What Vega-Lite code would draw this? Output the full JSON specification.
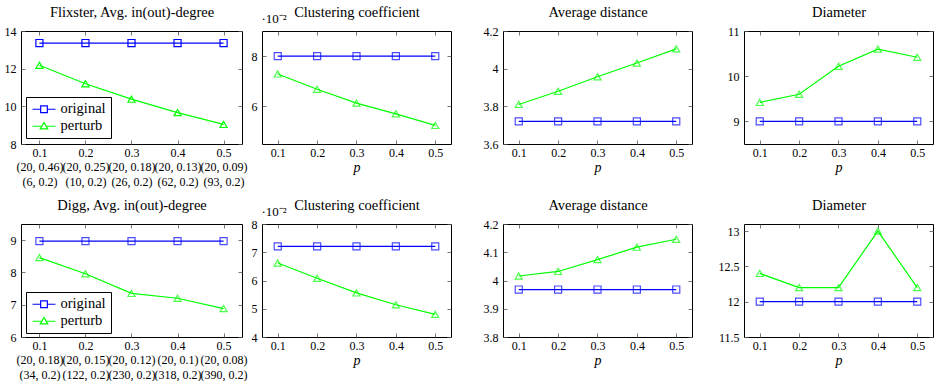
{
  "$schema": "https://vega.github.io/schema/vega-lite/v6.json",
  "background": "white",
  "padding": {"left": 3, "top": 3, "right": 5, "bottom": 0},
  "datasets": {
    "f_deg": [
      {"p": 0.1, "s": "original", "v": 13.36}, {"p": 0.2, "s": "original", "v": 13.36}, {"p": 0.3, "s": "original", "v": 13.36}, {"p": 0.4, "s": "original", "v": 13.36}, {"p": 0.5, "s": "original", "v": 13.36},
      {"p": 0.1, "s": "perturb", "v": 12.18}, {"p": 0.2, "s": "perturb", "v": 11.2}, {"p": 0.3, "s": "perturb", "v": 10.38}, {"p": 0.4, "s": "perturb", "v": 9.67}, {"p": 0.5, "s": "perturb", "v": 9.04}
    ],
    "f_cc": [
      {"p": 0.1, "s": "original", "v": 8.0}, {"p": 0.2, "s": "original", "v": 8.0}, {"p": 0.3, "s": "original", "v": 8.0}, {"p": 0.4, "s": "original", "v": 8.0}, {"p": 0.5, "s": "original", "v": 8.0},
      {"p": 0.1, "s": "perturb", "v": 7.29}, {"p": 0.2, "s": "perturb", "v": 6.68}, {"p": 0.3, "s": "perturb", "v": 6.13}, {"p": 0.4, "s": "perturb", "v": 5.7}, {"p": 0.5, "s": "perturb", "v": 5.24}
    ],
    "f_ad": [
      {"p": 0.1, "s": "original", "v": 3.72}, {"p": 0.2, "s": "original", "v": 3.72}, {"p": 0.3, "s": "original", "v": 3.72}, {"p": 0.4, "s": "original", "v": 3.72}, {"p": 0.5, "s": "original", "v": 3.72},
      {"p": 0.1, "s": "perturb", "v": 3.81}, {"p": 0.2, "s": "perturb", "v": 3.88}, {"p": 0.3, "s": "perturb", "v": 3.957}, {"p": 0.4, "s": "perturb", "v": 4.03}, {"p": 0.5, "s": "perturb", "v": 4.105}
    ],
    "f_dia": [
      {"p": 0.1, "s": "original", "v": 9}, {"p": 0.2, "s": "original", "v": 9}, {"p": 0.3, "s": "original", "v": 9}, {"p": 0.4, "s": "original", "v": 9}, {"p": 0.5, "s": "original", "v": 9},
      {"p": 0.1, "s": "perturb", "v": 9.42}, {"p": 0.2, "s": "perturb", "v": 9.6}, {"p": 0.3, "s": "perturb", "v": 10.22}, {"p": 0.4, "s": "perturb", "v": 10.6}, {"p": 0.5, "s": "perturb", "v": 10.42}
    ],
    "d_deg": [
      {"p": 0.1, "s": "original", "v": 8.97}, {"p": 0.2, "s": "original", "v": 8.97}, {"p": 0.3, "s": "original", "v": 8.97}, {"p": 0.4, "s": "original", "v": 8.97}, {"p": 0.5, "s": "original", "v": 8.97},
      {"p": 0.1, "s": "perturb", "v": 8.46}, {"p": 0.2, "s": "perturb", "v": 7.96}, {"p": 0.3, "s": "perturb", "v": 7.35}, {"p": 0.4, "s": "perturb", "v": 7.2}, {"p": 0.5, "s": "perturb", "v": 6.88}
    ],
    "d_cc": [
      {"p": 0.1, "s": "original", "v": 7.21}, {"p": 0.2, "s": "original", "v": 7.21}, {"p": 0.3, "s": "original", "v": 7.21}, {"p": 0.4, "s": "original", "v": 7.21}, {"p": 0.5, "s": "original", "v": 7.21},
      {"p": 0.1, "s": "perturb", "v": 6.62}, {"p": 0.2, "s": "perturb", "v": 6.08}, {"p": 0.3, "s": "perturb", "v": 5.56}, {"p": 0.4, "s": "perturb", "v": 5.14}, {"p": 0.5, "s": "perturb", "v": 4.8}
    ],
    "d_ad": [
      {"p": 0.1, "s": "original", "v": 3.968}, {"p": 0.2, "s": "original", "v": 3.968}, {"p": 0.3, "s": "original", "v": 3.968}, {"p": 0.4, "s": "original", "v": 3.968}, {"p": 0.5, "s": "original", "v": 3.968},
      {"p": 0.1, "s": "perturb", "v": 4.016}, {"p": 0.2, "s": "perturb", "v": 4.032}, {"p": 0.3, "s": "perturb", "v": 4.074}, {"p": 0.4, "s": "perturb", "v": 4.118}, {"p": 0.5, "s": "perturb", "v": 4.146}
    ],
    "d_dia": [
      {"p": 0.1, "s": "original", "v": 12}, {"p": 0.2, "s": "original", "v": 12}, {"p": 0.3, "s": "original", "v": 12}, {"p": 0.4, "s": "original", "v": 12}, {"p": 0.5, "s": "original", "v": 12},
      {"p": 0.1, "s": "perturb", "v": 12.4}, {"p": 0.2, "s": "perturb", "v": 12.2}, {"p": 0.3, "s": "perturb", "v": 12.2}, {"p": 0.4, "s": "perturb", "v": 13}, {"p": 0.5, "s": "perturb", "v": 12.2}
    ]
  },
  "columns": 7,
  "spacing": {"row": 80, "column": 0},
  "bounds": "flush",
  "concat": [
    {
      "width": 221, "height": 113,
      "data": {"name": "f_deg"},
      "layer": [
        {"mark": {"type": "line", "strokeWidth": 1.2},
         "encoding": {
           "x": {"field": "p", "type": "quantitative", "scale": {"domain": [0.06, 0.54], "nice": false, "zero": false}, "axis": {"values": [0.1, 0.2, 0.3, 0.4, 0.5], "format": ".1f", "title": null, "labelLineHeight": 14.5, "labelExpr": "datum.label=='0.1'?['0.1','(20, 0.46)','(6, 0.2)']:datum.label=='0.2'?['0.2','(20, 0.25)','(10, 0.2)']:datum.label=='0.3'?['0.3','(20, 0.18)','(26, 0.2)']:datum.label=='0.4'?['0.4','(20, 0.13)','(62, 0.2)']:['0.5','(20, 0.09)','(93, 0.2)']"}},
           "y": {"field": "v", "type": "quantitative", "scale": {"domain": [8, 14], "nice": false, "zero": false}, "axis": {"values": [8, 10, 12, 14], "format": "~g", "title": null}},
           "color": {"field": "s", "type": "nominal", "scale": {"domain": ["original", "perturb"], "range": ["#0000ff", "#00ff00"]}, "legend": null}
         }},
        {"mark": {"type": "point", "filled": false, "strokeWidth": 1.2, "size": 50, "opacity": 1},
         "encoding": {
           "x": {"field": "p", "type": "quantitative", "scale": {"domain": [0.06, 0.54], "nice": false, "zero": false}, "axis": {"orient": "top", "values": [0.1, 0.2, 0.3, 0.4, 0.5], "labels": false, "title": "Flixster, Avg. in(out)-degree", "titleFontStyle": "normal", "titleFontSize": 14.5, "titleBaseline": "alphabetic", "titleY": -15}},
           "y": {"field": "v", "type": "quantitative", "scale": {"domain": [8, 14], "nice": false, "zero": false}, "axis": {"orient": "right", "values": [8, 10, 12, 14], "labels": false, "title": null}},
           "color": {"field": "s", "type": "nominal", "scale": {"domain": ["original", "perturb"], "range": ["#0000ff", "#00ff00"]}, "legend": null},
           "shape": {"field": "s", "type": "nominal", "scale": {"domain": ["original", "perturb"], "range": ["square", "triangle-up"]}, "legend": null}
         }},
        {"mark": {"type": "point", "filled": false, "strokeWidth": 1.2, "size": 132, "opacity": 0},
         "encoding": {
           "x": {"field": "p", "type": "quantitative", "scale": {"domain": [0.06, 0.54], "nice": false, "zero": false}, "axis": null},
           "y": {"field": "v", "type": "quantitative", "scale": {"domain": [8, 14], "nice": false, "zero": false}, "axis": null},
           "color": {"field": "s", "type": "nominal", "scale": {"domain": ["original", "perturb"], "range": ["#0000ff", "#00ff00"]}, "legend": {"orient": "none", "legendX": 5, "legendY": 66, "title": null, "strokeColor": "black", "fillColor": "white", "padding": 5, "labelFontSize": 14.5, "labelFont": "Liberation Serif", "labelColor": "black", "symbolSize": 132, "symbolStrokeWidth": 1.2, "symbolOpacity": 1, "rowPadding": 2, "labelOffset": 15}},
           "shape": {"field": "s", "type": "nominal", "scale": {"domain": ["original", "perturb"], "range": ["M-1,0H0.42M1.58,0H3M0.42,-0.58H1.58V0.58H0.42Z", "M-1,0H0.62M1.38,0H3M1,-0.65L1.65,0.45H0.35Z"]}, "legend": {"orient": "none", "legendX": 5, "legendY": 66, "title": null, "strokeColor": "black", "fillColor": "white", "padding": 5, "labelFontSize": 14.5, "labelFont": "Liberation Serif", "labelColor": "black", "symbolSize": 132, "symbolStrokeWidth": 1.2, "symbolOpacity": 1, "rowPadding": 2, "labelOffset": 15}}
         }}
      ],
      "resolve": {"axis": {"x": "independent", "y": "independent"}, "scale": {"color": "independent", "shape": "independent"}, "legend": {"color": "independent", "shape": "independent"}}
    },
    {"width": 20, "height": 113, "data": {"values": [{}]}, "mark": {"type": "point", "opacity": 0}, "view": {"stroke": null}},
    {
      "width": 189, "height": 113,
      "data": {"name": "f_cc"},
      "layer": [
        {"mark": {"type": "line", "strokeWidth": 1.2},
         "encoding": {
           "x": {"field": "p", "type": "quantitative", "scale": {"domain": [0.06, 0.54], "nice": false, "zero": false}, "axis": {"values": [0.1, 0.2, 0.3, 0.4, 0.5], "format": ".1f", "title": "p"}},
           "y": {"field": "v", "type": "quantitative", "scale": {"domain": [4.5, 9], "nice": false, "zero": false}, "axis": {"values": [6, 8], "format": "~g", "title": "·10⁻²", "titleAngle": 0, "titleAlign": "left", "titleBaseline": "alphabetic", "titleX": -1, "titleY": -9, "titleFontStyle": "normal", "titleFontSize": 13}},
           "color": {"field": "s", "type": "nominal", "scale": {"domain": ["original", "perturb"], "range": ["#0000ff", "#00ff00"]}, "legend": null}
         }},
        {"mark": {"type": "point", "filled": false, "strokeWidth": 1.2, "size": 50},
         "encoding": {
           "x": {"field": "p", "type": "quantitative", "scale": {"domain": [0.06, 0.54], "nice": false, "zero": false}, "axis": {"orient": "top", "values": [0.1, 0.2, 0.3, 0.4, 0.5], "labels": false, "title": "Clustering coefficient", "titleFontStyle": "normal", "titleFontSize": 14.5, "titleBaseline": "alphabetic", "titleY": -15}},
           "y": {"field": "v", "type": "quantitative", "scale": {"domain": [4.5, 9], "nice": false, "zero": false}, "axis": {"orient": "right", "values": [6, 8], "labels": false, "title": null}},
           "color": {"field": "s", "type": "nominal", "scale": {"domain": ["original", "perturb"], "range": ["#0000ff", "#00ff00"]}, "legend": null},
           "shape": {"field": "s", "type": "nominal", "scale": {"domain": ["original", "perturb"], "range": ["square", "triangle-up"]}, "legend": null}
         }}
      ],
      "resolve": {"axis": {"x": "independent", "y": "independent"}}
    },
    {"width": 52, "height": 113, "data": {"values": [{}]}, "mark": {"type": "point", "opacity": 0}, "view": {"stroke": null}},
    {
      "width": 189, "height": 113,
      "data": {"name": "f_ad"},
      "layer": [
        {"mark": {"type": "line", "strokeWidth": 1.2},
         "encoding": {
           "x": {"field": "p", "type": "quantitative", "scale": {"domain": [0.06, 0.54], "nice": false, "zero": false}, "axis": {"values": [0.1, 0.2, 0.3, 0.4, 0.5], "format": ".1f", "title": "p"}},
           "y": {"field": "v", "type": "quantitative", "scale": {"domain": [3.6, 4.2], "nice": false, "zero": false}, "axis": {"values": [3.6, 3.8, 4, 4.2], "format": "~g", "title": null}},
           "color": {"field": "s", "type": "nominal", "scale": {"domain": ["original", "perturb"], "range": ["#0000ff", "#00ff00"]}, "legend": null}
         }},
        {"mark": {"type": "point", "filled": false, "strokeWidth": 1.2, "size": 50},
         "encoding": {
           "x": {"field": "p", "type": "quantitative", "scale": {"domain": [0.06, 0.54], "nice": false, "zero": false}, "axis": {"orient": "top", "values": [0.1, 0.2, 0.3, 0.4, 0.5], "labels": false, "title": "Average distance", "titleFontStyle": "normal", "titleFontSize": 14.5, "titleBaseline": "alphabetic", "titleY": -15}},
           "y": {"field": "v", "type": "quantitative", "scale": {"domain": [3.6, 4.2], "nice": false, "zero": false}, "axis": {"orient": "right", "values": [3.6, 3.8, 4, 4.2], "labels": false, "title": null}},
           "color": {"field": "s", "type": "nominal", "scale": {"domain": ["original", "perturb"], "range": ["#0000ff", "#00ff00"]}, "legend": null},
           "shape": {"field": "s", "type": "nominal", "scale": {"domain": ["original", "perturb"], "range": ["square", "triangle-up"]}, "legend": null}
         }}
      ],
      "resolve": {"axis": {"x": "independent", "y": "independent"}}
    },
    {"width": 52, "height": 113, "data": {"values": [{}]}, "mark": {"type": "point", "opacity": 0}, "view": {"stroke": null}},
    {
      "width": 189, "height": 113,
      "data": {"name": "f_dia"},
      "layer": [
        {"mark": {"type": "line", "strokeWidth": 1.2},
         "encoding": {
           "x": {"field": "p", "type": "quantitative", "scale": {"domain": [0.06, 0.54], "nice": false, "zero": false}, "axis": {"values": [0.1, 0.2, 0.3, 0.4, 0.5], "format": ".1f", "title": "p"}},
           "y": {"field": "v", "type": "quantitative", "scale": {"domain": [8.5, 11], "nice": false, "zero": false}, "axis": {"values": [9, 10, 11], "format": "~g", "title": null}},
           "color": {"field": "s", "type": "nominal", "scale": {"domain": ["original", "perturb"], "range": ["#0000ff", "#00ff00"]}, "legend": null}
         }},
        {"mark": {"type": "point", "filled": false, "strokeWidth": 1.2, "size": 50},
         "encoding": {
           "x": {"field": "p", "type": "quantitative", "scale": {"domain": [0.06, 0.54], "nice": false, "zero": false}, "axis": {"orient": "top", "values": [0.1, 0.2, 0.3, 0.4, 0.5], "labels": false, "title": "Diameter", "titleFontStyle": "normal", "titleFontSize": 14.5, "titleBaseline": "alphabetic", "titleY": -15}},
           "y": {"field": "v", "type": "quantitative", "scale": {"domain": [8.5, 11], "nice": false, "zero": false}, "axis": {"orient": "right", "values": [9, 10, 11], "labels": false, "title": null}},
           "color": {"field": "s", "type": "nominal", "scale": {"domain": ["original", "perturb"], "range": ["#0000ff", "#00ff00"]}, "legend": null},
           "shape": {"field": "s", "type": "nominal", "scale": {"domain": ["original", "perturb"], "range": ["square", "triangle-up"]}, "legend": null}
         }}
      ],
      "resolve": {"axis": {"x": "independent", "y": "independent"}}
    },
    {
      "width": 221, "height": 113,
      "data": {"name": "d_deg"},
      "layer": [
        {"mark": {"type": "line", "strokeWidth": 1.2},
         "encoding": {
           "x": {"field": "p", "type": "quantitative", "scale": {"domain": [0.06, 0.54], "nice": false, "zero": false}, "axis": {"values": [0.1, 0.2, 0.3, 0.4, 0.5], "format": ".1f", "title": null, "labelLineHeight": 14.5, "labelExpr": "datum.label=='0.1'?['0.1','(20, 0.18)','(34, 0.2)']:datum.label=='0.2'?['0.2','(20, 0.15)','(122, 0.2)']:datum.label=='0.3'?['0.3','(20, 0.12)','(230, 0.2)']:datum.label=='0.4'?['0.4','(20, 0.1)','(318, 0.2)']:['0.5','(20, 0.08)','(390, 0.2)']"}},
           "y": {"field": "v", "type": "quantitative", "scale": {"domain": [6, 9.5], "nice": false, "zero": false}, "axis": {"values": [6, 7, 8, 9], "format": "~g", "title": null}},
           "color": {"field": "s", "type": "nominal", "scale": {"domain": ["original", "perturb"], "range": ["#0000ff", "#00ff00"]}, "legend": null}
         }},
        {"mark": {"type": "point", "filled": false, "strokeWidth": 1.2, "size": 50},
         "encoding": {
           "x": {"field": "p", "type": "quantitative", "scale": {"domain": [0.06, 0.54], "nice": false, "zero": false}, "axis": {"orient": "top", "values": [0.1, 0.2, 0.3, 0.4, 0.5], "labels": false, "title": "Digg, Avg. in(out)-degree", "titleFontStyle": "normal", "titleFontSize": 14.5, "titleBaseline": "alphabetic", "titleY": -15}},
           "y": {"field": "v", "type": "quantitative", "scale": {"domain": [6, 9.5], "nice": false, "zero": false}, "axis": {"orient": "right", "values": [6, 7, 8, 9], "labels": false, "title": null}},
           "color": {"field": "s", "type": "nominal", "scale": {"domain": ["original", "perturb"], "range": ["#0000ff", "#00ff00"]}, "legend": null},
           "shape": {"field": "s", "type": "nominal", "scale": {"domain": ["original", "perturb"], "range": ["square", "triangle-up"]}, "legend": null}
         }},
        {"mark": {"type": "point", "filled": false, "strokeWidth": 1.2, "size": 132, "opacity": 0},
         "encoding": {
           "x": {"field": "p", "type": "quantitative", "scale": {"domain": [0.06, 0.54], "nice": false, "zero": false}, "axis": null},
           "y": {"field": "v", "type": "quantitative", "scale": {"domain": [6, 9.5], "nice": false, "zero": false}, "axis": null},
           "color": {"field": "s", "type": "nominal", "scale": {"domain": ["original", "perturb"], "range": ["#0000ff", "#00ff00"]}, "legend": {"orient": "none", "legendX": 5, "legendY": 68, "title": null, "strokeColor": "black", "fillColor": "white", "padding": 5, "labelFontSize": 14.5, "labelFont": "Liberation Serif", "labelColor": "black", "symbolSize": 132, "symbolStrokeWidth": 1.2, "symbolOpacity": 1, "rowPadding": 2, "labelOffset": 15}},
           "shape": {"field": "s", "type": "nominal", "scale": {"domain": ["original", "perturb"], "range": ["M-1,0H0.42M1.58,0H3M0.42,-0.58H1.58V0.58H0.42Z", "M-1,0H0.62M1.38,0H3M1,-0.65L1.65,0.45H0.35Z"]}, "legend": {"orient": "none", "legendX": 5, "legendY": 68, "title": null, "strokeColor": "black", "fillColor": "white", "padding": 5, "labelFontSize": 14.5, "labelFont": "Liberation Serif", "labelColor": "black", "symbolSize": 132, "symbolStrokeWidth": 1.2, "symbolOpacity": 1, "rowPadding": 2, "labelOffset": 15}}
         }}
      ],
      "resolve": {"axis": {"x": "independent", "y": "independent"}, "scale": {"color": "independent", "shape": "independent"}, "legend": {"color": "independent", "shape": "independent"}}
    },
    {"width": 20, "height": 113, "data": {"values": [{}]}, "mark": {"type": "point", "opacity": 0}, "view": {"stroke": null}},
    {
      "width": 189, "height": 113,
      "data": {"name": "d_cc"},
      "layer": [
        {"mark": {"type": "line", "strokeWidth": 1.2},
         "encoding": {
           "x": {"field": "p", "type": "quantitative", "scale": {"domain": [0.06, 0.54], "nice": false, "zero": false}, "axis": {"values": [0.1, 0.2, 0.3, 0.4, 0.5], "format": ".1f", "title": "p"}},
           "y": {"field": "v", "type": "quantitative", "scale": {"domain": [4, 8], "nice": false, "zero": false}, "axis": {"values": [4, 5, 6, 7, 8], "format": "~g", "title": "·10⁻²", "titleAngle": 0, "titleAlign": "left", "titleBaseline": "alphabetic", "titleX": -1, "titleY": -9, "titleFontStyle": "normal", "titleFontSize": 13}},
           "color": {"field": "s", "type": "nominal", "scale": {"domain": ["original", "perturb"], "range": ["#0000ff", "#00ff00"]}, "legend": null}
         }},
        {"mark": {"type": "point", "filled": false, "strokeWidth": 1.2, "size": 50},
         "encoding": {
           "x": {"field": "p", "type": "quantitative", "scale": {"domain": [0.06, 0.54], "nice": false, "zero": false}, "axis": {"orient": "top", "values": [0.1, 0.2, 0.3, 0.4, 0.5], "labels": false, "title": "Clustering coefficient", "titleFontStyle": "normal", "titleFontSize": 14.5, "titleBaseline": "alphabetic", "titleY": -15}},
           "y": {"field": "v", "type": "quantitative", "scale": {"domain": [4, 8], "nice": false, "zero": false}, "axis": {"orient": "right", "values": [4, 5, 6, 7, 8], "labels": false, "title": null}},
           "color": {"field": "s", "type": "nominal", "scale": {"domain": ["original", "perturb"], "range": ["#0000ff", "#00ff00"]}, "legend": null},
           "shape": {"field": "s", "type": "nominal", "scale": {"domain": ["original", "perturb"], "range": ["square", "triangle-up"]}, "legend": null}
         }}
      ],
      "resolve": {"axis": {"x": "independent", "y": "independent"}}
    },
    {"width": 52, "height": 113, "data": {"values": [{}]}, "mark": {"type": "point", "opacity": 0}, "view": {"stroke": null}},
    {
      "width": 189, "height": 113,
      "data": {"name": "d_ad"},
      "layer": [
        {"mark": {"type": "line", "strokeWidth": 1.2},
         "encoding": {
           "x": {"field": "p", "type": "quantitative", "scale": {"domain": [0.06, 0.54], "nice": false, "zero": false}, "axis": {"values": [0.1, 0.2, 0.3, 0.4, 0.5], "format": ".1f", "title": "p"}},
           "y": {"field": "v", "type": "quantitative", "scale": {"domain": [3.8, 4.2], "nice": false, "zero": false}, "axis": {"values": [3.8, 3.9, 4, 4.1, 4.2], "format": "~g", "title": null}},
           "color": {"field": "s", "type": "nominal", "scale": {"domain": ["original", "perturb"], "range": ["#0000ff", "#00ff00"]}, "legend": null}
         }},
        {"mark": {"type": "point", "filled": false, "strokeWidth": 1.2, "size": 50},
         "encoding": {
           "x": {"field": "p", "type": "quantitative", "scale": {"domain": [0.06, 0.54], "nice": false, "zero": false}, "axis": {"orient": "top", "values": [0.1, 0.2, 0.3, 0.4, 0.5], "labels": false, "title": "Average distance", "titleFontStyle": "normal", "titleFontSize": 14.5, "titleBaseline": "alphabetic", "titleY": -15}},
           "y": {"field": "v", "type": "quantitative", "scale": {"domain": [3.8, 4.2], "nice": false, "zero": false}, "axis": {"orient": "right", "values": [3.8, 3.9, 4, 4.1, 4.2], "labels": false, "title": null}},
           "color": {"field": "s", "type": "nominal", "scale": {"domain": ["original", "perturb"], "range": ["#0000ff", "#00ff00"]}, "legend": null},
           "shape": {"field": "s", "type": "nominal", "scale": {"domain": ["original", "perturb"], "range": ["square", "triangle-up"]}, "legend": null}
         }}
      ],
      "resolve": {"axis": {"x": "independent", "y": "independent"}}
    },
    {"width": 52, "height": 113, "data": {"values": [{}]}, "mark": {"type": "point", "opacity": 0}, "view": {"stroke": null}},
    {
      "width": 189, "height": 113,
      "data": {"name": "d_dia"},
      "layer": [
        {"mark": {"type": "line", "strokeWidth": 1.2},
         "encoding": {
           "x": {"field": "p", "type": "quantitative", "scale": {"domain": [0.06, 0.54], "nice": false, "zero": false}, "axis": {"values": [0.1, 0.2, 0.3, 0.4, 0.5], "format": ".1f", "title": "p"}},
           "y": {"field": "v", "type": "quantitative", "scale": {"domain": [11.5, 13.1], "nice": false, "zero": false}, "axis": {"values": [11.5, 12, 12.5, 13], "format": "~g", "title": null}},
           "color": {"field": "s", "type": "nominal", "scale": {"domain": ["original", "perturb"], "range": ["#0000ff", "#00ff00"]}, "legend": null}
         }},
        {"mark": {"type": "point", "filled": false, "strokeWidth": 1.2, "size": 50},
         "encoding": {
           "x": {"field": "p", "type": "quantitative", "scale": {"domain": [0.06, 0.54], "nice": false, "zero": false}, "axis": {"orient": "top", "values": [0.1, 0.2, 0.3, 0.4, 0.5], "labels": false, "title": "Diameter", "titleFontStyle": "normal", "titleFontSize": 14.5, "titleBaseline": "alphabetic", "titleY": -15}},
           "y": {"field": "v", "type": "quantitative", "scale": {"domain": [11.5, 13.1], "nice": false, "zero": false}, "axis": {"orient": "right", "values": [11.5, 12, 12.5, 13], "labels": false, "title": null}},
           "color": {"field": "s", "type": "nominal", "scale": {"domain": ["original", "perturb"], "range": ["#0000ff", "#00ff00"]}, "legend": null},
           "shape": {"field": "s", "type": "nominal", "scale": {"domain": ["original", "perturb"], "range": ["square", "triangle-up"]}, "legend": null}
         }}
      ],
      "resolve": {"axis": {"x": "independent", "y": "independent"}}
    }
  ],
  "config": {
    "font": "Liberation Serif",
    "view": {"stroke": "black", "strokeWidth": 1},
    "axis": {"grid": false, "domain": false, "tickColor": "#555555", "tickSize": -4, "tickWidth": 0.8, "labelColor": "black", "labelFont": "Liberation Serif", "labelFontSize": 12, "labelOverlap": false, "labelBound": false, "labelFlush": false, "titleFont": "Liberation Serif", "titleFontSize": 14, "titleFontWeight": "normal", "titleFontStyle": "italic", "titleColor": "black"},
    "axisX": {"labelPadding": 7, "titlePadding": 2},
    "axisY": {"labelPadding": 9}
  }
}
